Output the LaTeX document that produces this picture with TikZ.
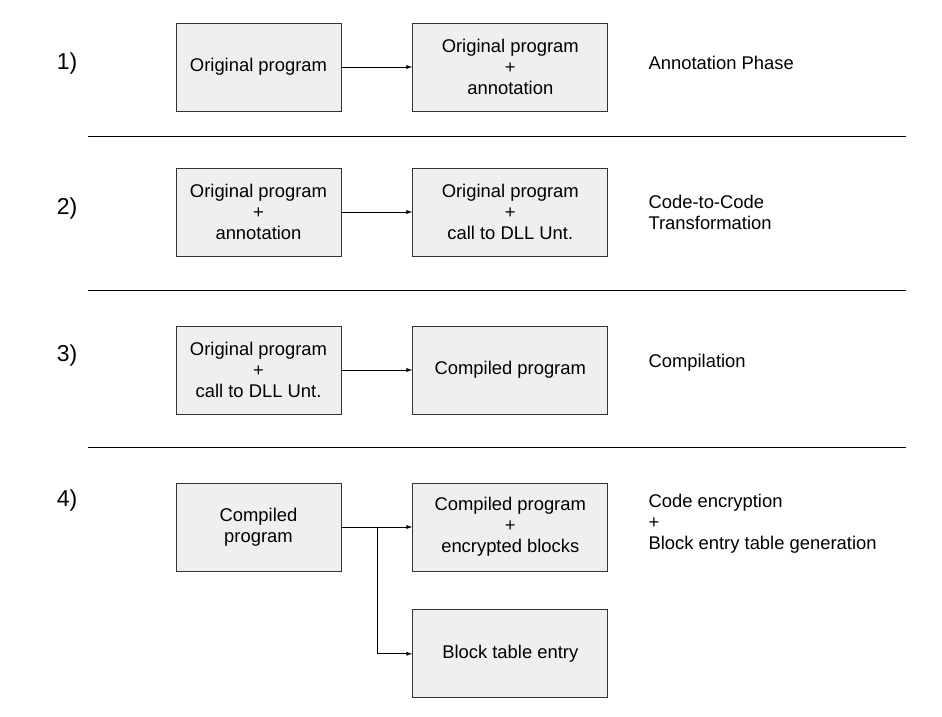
\documentclass[tikz,border=0pt]{standalone}
\usepackage{fontspec}
\setmainfont{Liberation Sans}
\usetikzlibrary{arrows.meta,positioning}
\definecolor{boxfill}{HTML}{EFEFEF}
\definecolor{boxline}{HTML}{333333}

\begin{document}
\begin{tikzpicture}[
  x=1pt,y=-1pt,
  node distance=71pt,
  font=\fontsize{18.4}{21}\selectfont,
  stage/.style={draw=boxline,fill=boxfill,align=center,minimum height=88pt,inner sep=0pt,line width=0.8pt},
  srcbox/.style={stage,minimum width=165pt},
  dstbox/.style={stage,minimum width=195pt},
  arrow/.style={-{Latex[length=6pt,width=4pt]},line width=0.7pt},
  phase/.style={anchor=west,align=left},
  num/.style={font=\fontsize{23}{26}\selectfont},
  sep/.style={line width=0.9pt}
]
\useasboundingbox (0,0) rectangle (942,717);

% step 1
\node[num] (n1) at (67,64) {1)};
\node[srcbox] (orig1) at (258.5,67) {Original program};
\node[dstbox,right=of orig1] (annot1) {Original program\\+\\annotation};
\node[phase] (ph1) at (645,63) {Annotation Phase};
\draw[arrow] (orig1) -- (annot1);
\draw[sep] (88,136) -- (906,136);

% step 2
\node[num] (n2) at (67,209) {2)};
\node[srcbox] (annot2) at (258.5,212) {Original program\\+\\annotation};
\node[dstbox,right=of annot2] (call2) {Original program\\+\\call to DLL Unt.};
\node[phase] (ph2) at (645,212) {Code-to-Code\\Transformation};
\draw[arrow] (annot2) -- (call2);
\draw[sep] (88,290) -- (906,290);

% step 3
\node[num] (n3) at (67,356) {3)};
\node[srcbox] (call3) at (258.5,370) {Original program\\+\\call to DLL Unt.};
\node[dstbox,right=of call3] (comp3) {Compiled program};
\node[phase] (ph3) at (645,363) {Compilation};
\draw[arrow] (call3) -- (comp3);
\draw[sep] (88,447) -- (906,447);

% step 4
\node[num] (n4) at (67,501) {4)};
\node[srcbox] (comp4) at (258.5,527) {Compiled\\program};
\node[dstbox,right=of comp4] (enc4) {Compiled program\\+\\encrypted blocks};
\node[dstbox,below=38pt of enc4] (table4) {Block table entry};
\node[phase] (ph4) at (645,524) {Code encryption\\+\\Block entry table generation};
\coordinate (split) at ([xshift=36pt]comp4.east);
\draw[arrow] (comp4) -- (enc4);
\draw[arrow] (split) |- (table4);
\end{tikzpicture}
\end{document}
